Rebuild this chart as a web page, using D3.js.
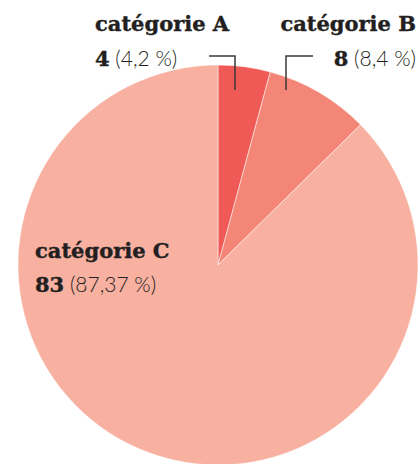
<!DOCTYPE html>
<html><head><meta charset="utf-8">
<script src="https://cdn.jsdelivr.net/npm/d3@7/dist/d3.min.js"></script>
<style>
html,body{margin:0;padding:0;background:#fff;}
svg{display:block;}
.cat{font-family:"DejaVu Serif",serif;font-weight:bold;font-size:21px;fill:#231f20;stroke:#231f20;stroke-width:0.4px;}
.val{font-family:"DejaVu Serif",serif;font-weight:bold;font-size:21px;fill:#231f20;stroke:#231f20;stroke-width:0.4px;}
.pct{font-family:"Lato","Open Sans",sans-serif;font-weight:300;font-size:21px;fill:#231f20;}
</style>
</head><body>
<svg id="chart" width="420" height="464"></svg>
<script>
const categories = ["catégorie A", "catégorie B", "catégorie C"];
const values = [4, 8, 83];
const pctLabels = ["(4,2 %)", "(8,4 %)", "(87,37 %)"];
const colors = ["#f05a56", "#f48677", "#f8b0a0"];

const svg = d3.select("#chart");
const cx = 218, cy = 265, r = 200;
const g = svg.append("g").attr("transform", `translate(${cx},${cy})`);
const pie = d3.pie().sort(null).value(d => d)(values);
const arc = d3.arc().innerRadius(0).outerRadius(r);
g.selectAll("path").data(pie).join("path")
  .attr("d", arc)
  .attr("fill", (d, i) => colors[i])
  .attr("stroke", "#fff").attr("stroke-width", 0.5);

// label layout (positions only)
const layout = [
  {x: 95, y1: 31, y2: 66, anchor: "start", leader: [[209,56],[235,56],[235,90]]},
  {x: 416, y1: 31, y2: 66, anchor: "end", leader: [[313,56],[286,56],[286,90]]},
  {x: 35, y1: 258, y2: 292, anchor: "start", leader: null}
];
layout.forEach((L, i) => {
  svg.append("text").attr("class", "cat").attr("x", L.x).attr("y", L.y1)
    .attr("text-anchor", L.anchor).text(categories[i]);
  const t = svg.append("text").attr("x", L.x).attr("y", L.y2).attr("text-anchor", L.anchor);
  t.append("tspan").attr("class", "val").text(values[i]);
  t.append("tspan").attr("class", "pct").text(" " + pctLabels[i]);
  if (L.leader) {
    svg.append("path").attr("d", d3.line()(L.leader))
      .attr("fill", "none").attr("stroke", "#3a3a3a").attr("stroke-width", 1.5);
  }
});
</script>
</body></html>
